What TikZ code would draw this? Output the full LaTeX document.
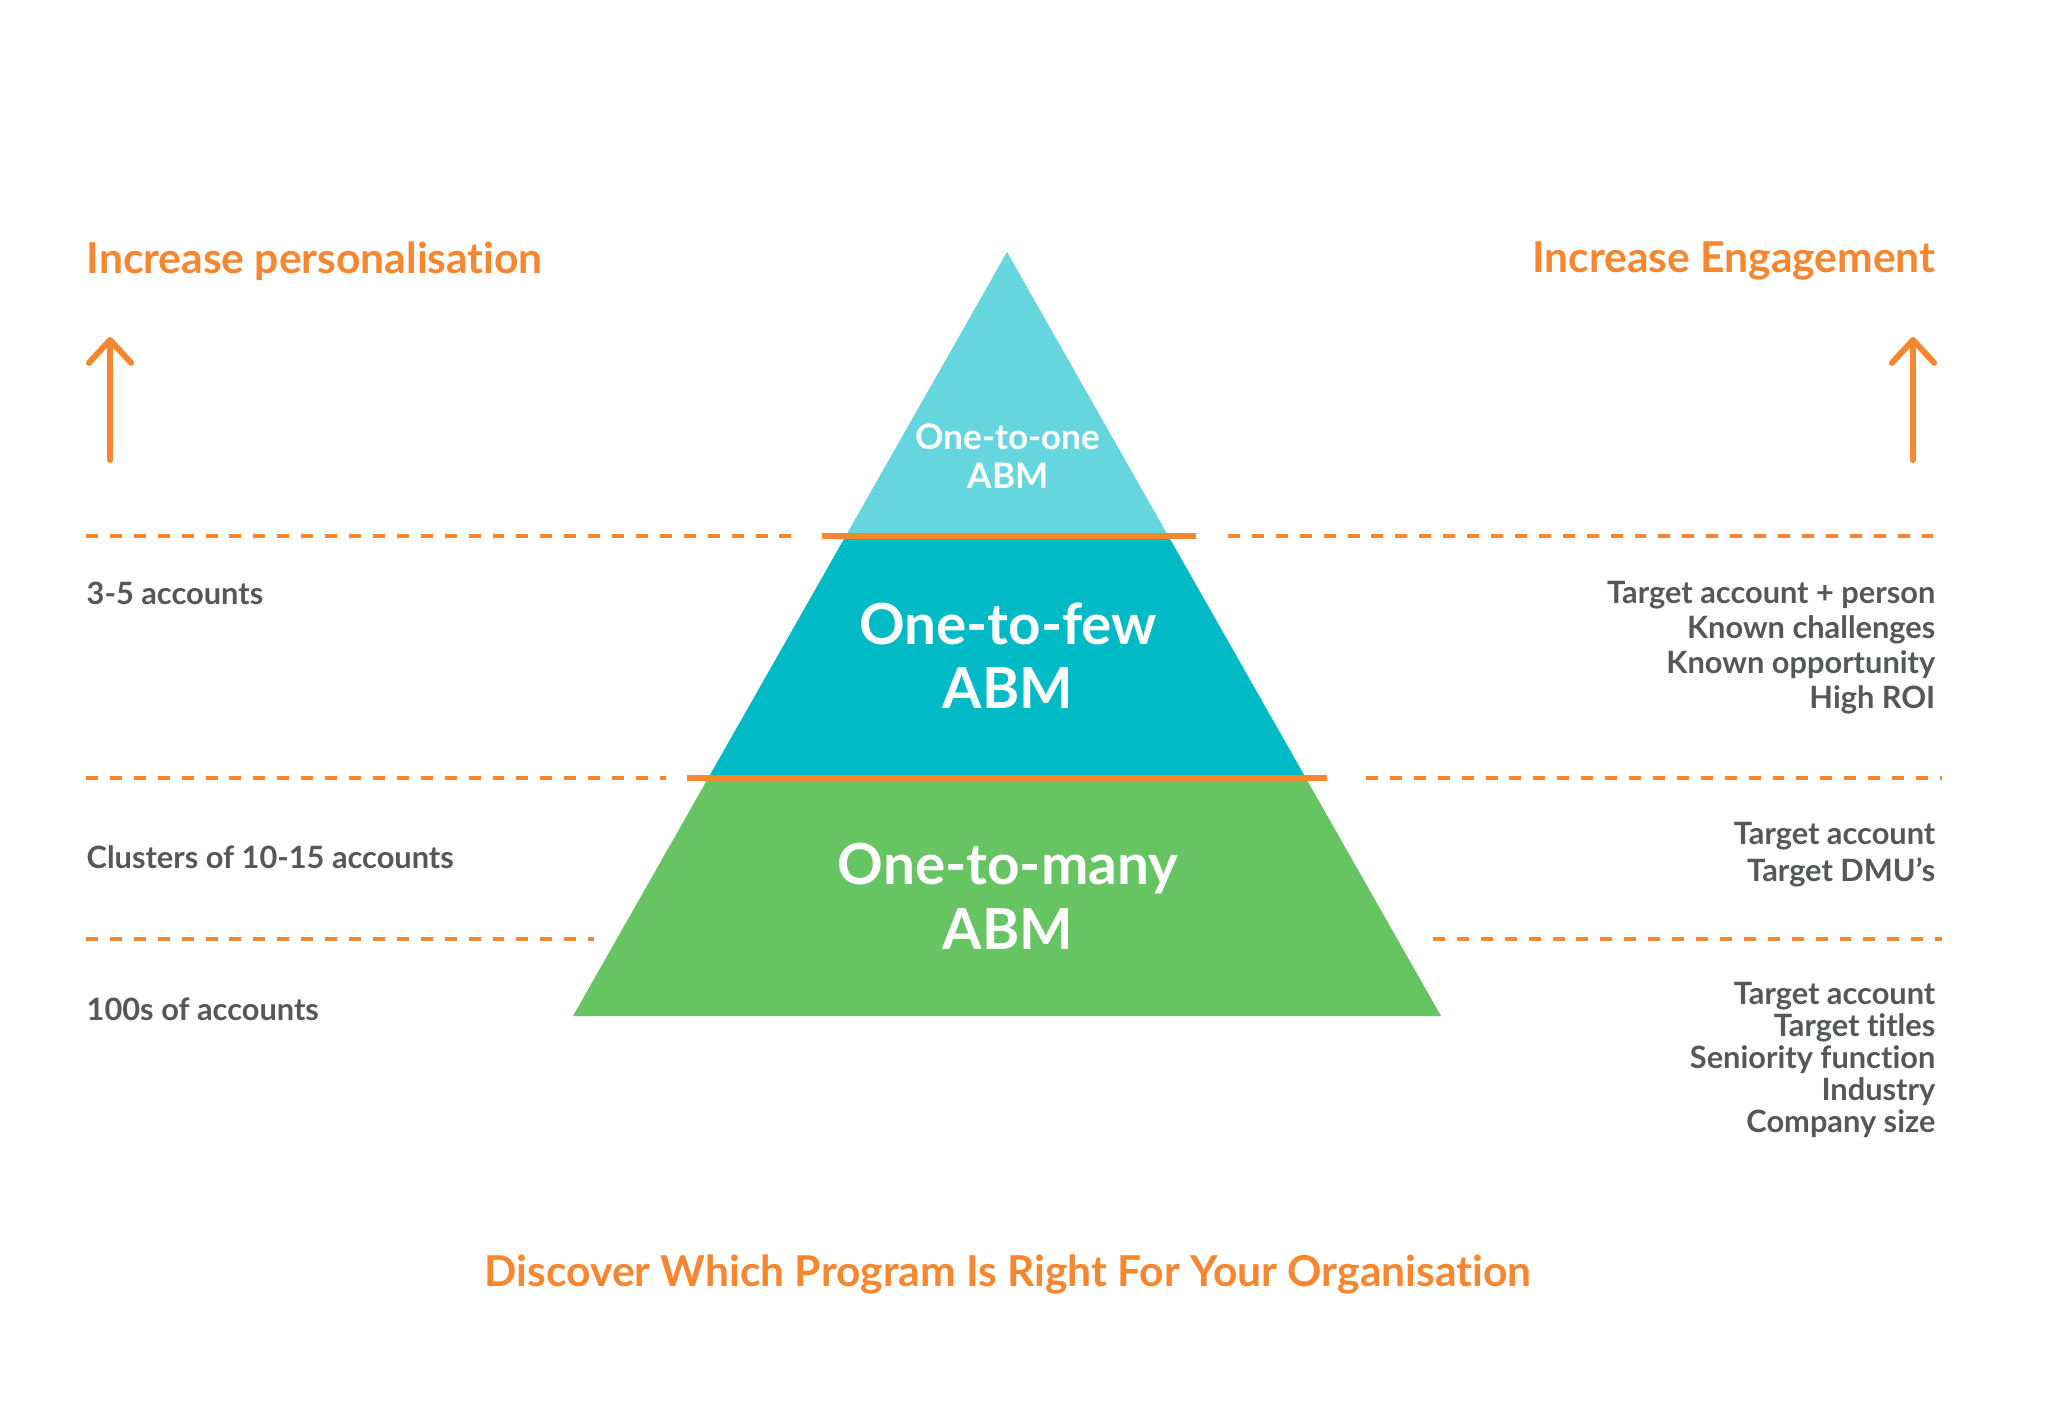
\documentclass[tikz,border=0pt]{standalone}
\usepackage{fontspec}
\setmainfont[Ligatures=CommonOff]{Lato}
\usetikzlibrary{calc}
\usetikzlibrary{arrows.meta}
\definecolor{abmorange}{HTML}{F8862F}
\definecolor{abmgrey}{HTML}{55575A}
\definecolor{tiertop}{HTML}{66D6DE}
\definecolor{tiermid}{HTML}{00BAC6}
\definecolor{tierbase}{HTML}{66C562}
\tikzset{note/.style={text=abmgrey,inner sep=0pt,
                      font=\bfseries\fontsize{8.75}{10}\selectfont}}
\tikzset{heading/.style={text=abmorange,inner sep=0pt,
                         font=\bfseries\fontsize{12.1}{14}\selectfont}}
\tikzset{tier/.style={text=white,inner sep=0pt,align=center}}

\begin{document}
\begin{tikzpicture}[x=0.01cm, y=-0.01cm]
    \tikzstyle{guide}=[draw=abmorange,line width=1.1pt,dash pattern=on 3.4pt off 3.4pt]
    \tikzstyle{divider}=[draw=abmorange,line width=1.6pt]
    \tikzstyle{uparrow}=[draw=abmorange,line width=1.7pt,line cap=round,
                         -{Straight Barb[length=6.5pt,width=12pt,round]}]

    \fill[white] (0,0) rectangle (2048,1411);
    \useasboundingbox (0,0) rectangle (2048,1411);

    % pyramid
    \coordinate (apex) at (1007,252);
    \coordinate (bl) at (573,1016);
    \coordinate (br) at (1441,1016);
    \coordinate (l1) at ($(apex)!0.3717!(bl)$);
    \coordinate (r1) at ($(apex)!0.3717!(br)$);
    \coordinate (l2) at ($(apex)!0.6885!(bl)$);
    \coordinate (r2) at ($(apex)!0.6885!(br)$);
    \fill[tiertop]  (apex) -- (r1) -- (l1) -- cycle;
    \fill[tiermid]  (l1) -- (r1) -- (r2) -- (l2) -- cycle;
    \fill[tierbase] (l2) -- (r2) -- (br) -- (bl) -- cycle;

    \node[tier,font=\bfseries\fontsize{10}{11.2}\selectfont] (one) at (1008,456) {One-to-one\\ABM};
    \node[tier,font=\bfseries\fontsize{16.1}{18.2}\selectfont] (few) at (1008,656) {One-to-few\\ABM};
    \node[tier,font=\bfseries\fontsize{16.1}{18.5}\selectfont] (many) at (1008,896) {One-to-many\\ABM};

    % dividers
    \coordinate (d1a) at (822,536);  \coordinate (d1b) at (1196,536);
    \coordinate (d2a) at (687,778);  \coordinate (d2b) at (1327,778);
    \draw[divider] (d1a) -- (d1b);
    \draw[divider] (d2a) -- (d2b);

    % dashed guides
    \foreach \y/\a/\b [count=\gi] in {536/799/1228, 778/666/1366, 939/594/1433}{%
        \coordinate (gl\gi) at (86,\y);   \coordinate (ge\gi) at (\a,\y);
        \coordinate (gs\gi) at (\b,\y);   \coordinate (gr\gi) at (1942,\y);
        \draw[guide] (gl\gi) -- (ge\gi);
        \draw[guide] (gs\gi) -- (gr\gi);
    }

    % arrows
    \coordinate (lfoot) at (110,460);  \coordinate (ltip) at (110,337);
    \coordinate (rfoot) at (1913,460); \coordinate (rtip) at (1913,337);
    \draw[uparrow] (lfoot) -- (ltip);
    \draw[uparrow] (rfoot) -- (rtip);

    % Labels
    \node[heading,anchor=west] (pers) at (86,261) {Increase personalisation};
    \node[heading,anchor=east] (eng) at (1936,261) {Increase Engagement};
    \node[heading] (cta) at (1008,1275)
        {Discover Which Program Is Right For Your Organisation};

    \node[note,anchor=west] (acc1) at (86,593) {3-5 accounts};
    \node[note,anchor=west] (acc2) at (86,857) {Clusters of 10-15 accounts};
    \node[note,anchor=west] (acc3) at (86,1009) {100s of accounts};

    \foreach \t [count=\i] in {Target account + person,Known challenges,Known opportunity,High ROI}{%
        \node[note,anchor=east] (topr\i) at (1936,595+35*\i-35) {\t};
    }
    \foreach \t [count=\i] in {Target account,Target DMU’s}{%
        \node[note,anchor=east] (midr\i) at (1936,836+36*\i-36) {\t};
    }
    \foreach \t [count=\i] in {Target account,Target titles,Seniority function,Industry,Company size}{%
        \node[note,anchor=east] (basr\i) at (1936,996+32*\i-32) {\t};
    }
\end{tikzpicture}
\end{document}
